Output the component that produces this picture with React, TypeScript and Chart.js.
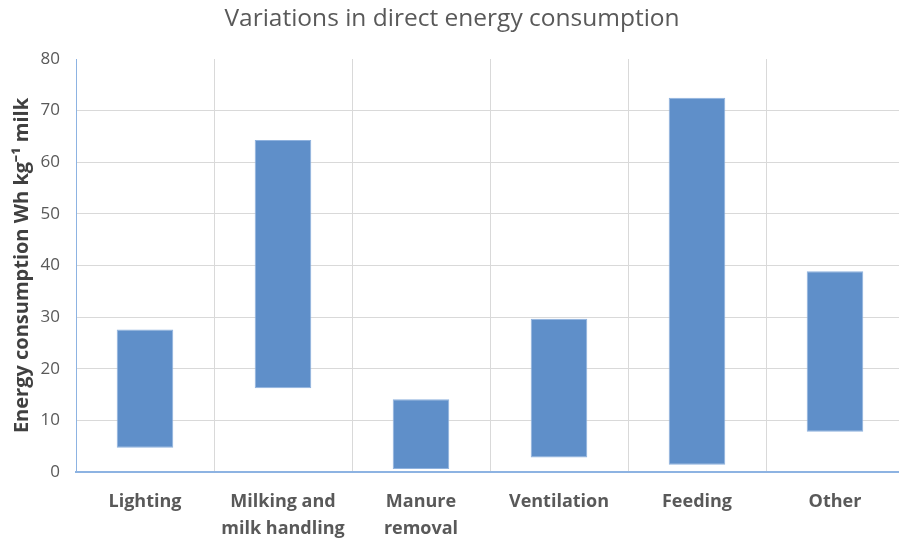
import React, { useEffect, useRef } from "react";
import { Chart, registerables } from "chart.js";

Chart.register(...registerables);

const categories: (string | string[])[] = [
  "Lighting",
  ["Milking and", "milk handling"],
  ["Manure", "removal"],
  "Ventilation",
  "Feeding",
  "Other",
];
const lowValues = [4.7, 16.2, 0.6, 2.8, 1.4, 7.8];
const highValues = [27.6, 64.3, 14.1, 29.7, 72.5, 38.9];
const yTicks = [0, 10, 20, 30, 40, 50, 60, 70, 80];
const title = "Variations in direct energy consumption";
const yTitle = "Energy consumption Wh kg\u207B\u00B9 milk";

export default function App() {
  const ref = useRef<HTMLCanvasElement>(null);
  useEffect(() => {
    document.body.style.margin = "0";
    const ctx = ref.current!;
    const chart = new Chart(ctx, {
      type: "bar",
      data: {
        labels: categories,
        datasets: [
          {
            data: lowValues.map((l, i) => [l, highValues[i]]),
            backgroundColor: "#5f8fc9",
            borderColor: "#8fb2de",
            borderWidth: 1,
            borderSkipped: false,
            barPercentage: 0.41,
            categoryPercentage: 1,
          },
        ],
      },
      options: {
        animation: false,
        responsive: false,
        devicePixelRatio: 1,
        layout: { padding: { left: 0, right: 0, top: 4, bottom: 0 } },
        plugins: {
          legend: { display: false },
          tooltip: { enabled: false },
          title: {
            display: true,
            text: title,
            color: "#595959",
            font: { family: "Open Sans", size: 24.5, weight: "normal" },
            padding: { top: 0, bottom: 25.6 },
          },
        },
        scales: {
          x: {
            afterFit: (axis: any) => {
              axis.height = 68;
            },
            grid: {
              display: true,
              offset: true,
              color: "#d9d9d9",
              drawTicks: false,
            },
            border: { display: true, color: "#8db3e2", width: 2 },
            ticks: {
              color: "#595959",
              font: { family: "Open Sans", size: 18, weight: "bold", lineHeight: 1.5 },
              padding: 16,
              maxRotation: 0,
              autoSkip: false,
            },
          },
          y: {
            min: 0,
            max: 80,
            afterFit: (axis: any) => {
              axis.width = 76;
            },
            afterBuildTicks: (axis: any) => {
              axis.ticks = yTicks.map((v) => ({ value: v }));
            },
            grid: {
              color: (c: any) => (c.tick && c.tick.value === 80 ? "rgba(0,0,0,0)" : "#d9d9d9"),
              drawTicks: false,
            },
            border: { display: true, color: "#8db3e2", width: 1 },
            ticks: {
              color: "#595959",
              font: { family: "Open Sans", size: 17 },
              padding: 16,
            },
            title: {
              display: true,
              text: yTitle,
              color: "#404040",
              font: { family: "Open Sans", size: 20, weight: "bold" },
              padding: { top: 10, bottom: 0 },
            },
          },
        },
      },
    });
    return () => chart.destroy();
  }, []);
  return (
    <div style={{ width: 899, height: 540, overflow: "hidden" }}>
      <canvas ref={ref} width={904} height={540} style={{ display: "block" }} />
    </div>
  );
}
